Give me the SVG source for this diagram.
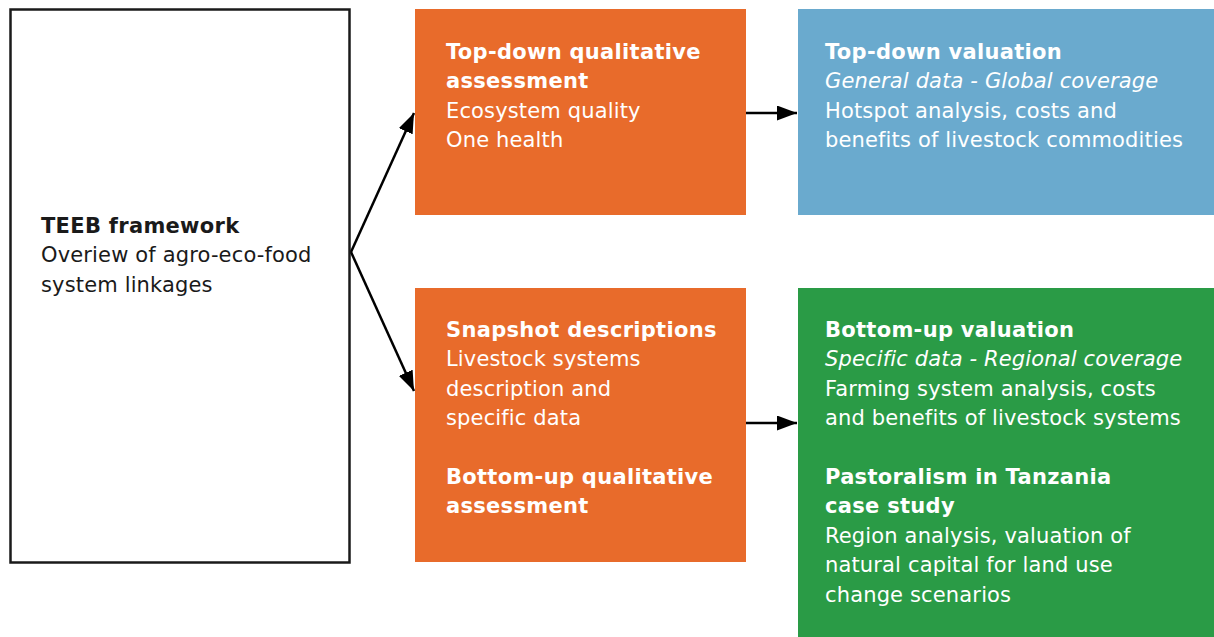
<svg xmlns="http://www.w3.org/2000/svg" width="1214" height="637" viewBox="0 0 1214 637">
<defs>
<style>
text{font-family:"DejaVu Sans",Verdana,sans-serif;font-size:21px;letter-spacing:0.15px;}
.w{fill:#ffffff;}
.k{fill:#1a1a1a;}
.b{font-weight:bold;letter-spacing:0.3px;}
.i{font-style:italic;}
.conn{stroke:#000;stroke-width:2.5;fill:none;marker-end:url(#ah);}
</style>
<marker id="ah" markerWidth="8" markerHeight="6" refX="8" refY="3" orient="auto" markerUnits="strokeWidth">
<path d="M0,0 L8,3 L0,6 Z" fill="#000"/>
</marker>
</defs>
<rect width="1214" height="637" fill="#ffffff"/>
<g id="teeb">
<rect x="10.5" y="9.5" width="339" height="553" fill="#ffffff" stroke="#1a1a1a" stroke-width="2.5"/>
<text class="k" x="41" y="233"><tspan class="b">TEEB framework</tspan><tspan x="41" dy="29.4">Overiew of agro-eco-food</tspan><tspan x="41" dy="29.4">system linkages</tspan></text>
</g>
<g id="topdown-qual">
<rect x="415" y="9" width="331" height="206" fill="#E86B2B"/>
<text class="w" x="446" y="59"><tspan class="b">Top-down qualitative</tspan><tspan class="b" x="446" dy="29.4">assessment</tspan><tspan x="446" dy="29.4">Ecosystem quality</tspan><tspan x="446" dy="29.4">One health</tspan></text>
</g>
<g id="topdown-val">
<rect x="798" y="9" width="416" height="206" fill="#6AAACE"/>
<text class="w" x="825" y="59"><tspan class="b">Top-down valuation</tspan><tspan class="i" x="825" dy="29.4">General data - Global coverage</tspan><tspan x="825" dy="29.4">Hotspot analysis, costs and</tspan><tspan x="825" dy="29.4">benefits of livestock commodities</tspan></text>
</g>
<g id="snapshot">
<rect x="415" y="288" width="331" height="274" fill="#E86B2B"/>
<text class="w" x="446" y="337"><tspan class="b">Snapshot descriptions</tspan><tspan x="446" dy="29.4">Livestock systems</tspan><tspan x="446" dy="29.4">description and</tspan><tspan x="446" dy="29.4">specific data</tspan><tspan class="b" x="446" dy="58.8">Bottom-up qualitative</tspan><tspan class="b" x="446" dy="29.4">assessment</tspan></text>
</g>
<g id="bottomup-val">
<rect x="798" y="288" width="416" height="349" fill="#2A9B46"/>
<text class="w" x="825" y="337"><tspan class="b">Bottom-up valuation</tspan><tspan class="i" x="825" dy="29.4">Specific data - Regional coverage</tspan><tspan x="825" dy="29.4">Farming system analysis, costs</tspan><tspan x="825" dy="29.4">and benefits of livestock systems</tspan><tspan class="b" x="825" dy="58.8">Pastoralism in Tanzania</tspan><tspan class="b" x="825" dy="29.4">case study</tspan><tspan x="825" dy="29.4">Region analysis, valuation of</tspan><tspan x="825" dy="29.4">natural capital for land use</tspan><tspan x="825" dy="29.4">change scenarios</tspan></text>
</g>
<g id="connectors">
<path class="conn" d="M351,252 L414,113"/>
<path class="conn" d="M351,252 L414,391"/>
<path class="conn" d="M746,113 L797,113"/>
<path class="conn" d="M746,423 L797,423"/>
</g>
</svg>
